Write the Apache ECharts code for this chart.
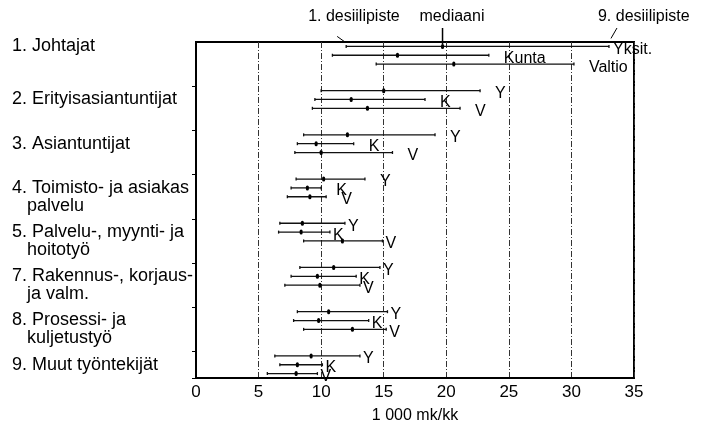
<!DOCTYPE html>
<html><head><meta charset="utf-8">
<script src="https://cdn.jsdelivr.net/npm/echarts@6/dist/echarts.min.js"></script>
<style>html,body{margin:0;padding:0;background:#fff}#c{width:701px;height:423px}</style>
</head><body><div id="c"></div>
<script>
// ---- data ----
const groups = [
  '1. Johtajat',
  '2. Erityisasiantuntijat',
  '3. Asiantuntijat',
  '4. Toimisto- ja asiakas\npalvelu',
  '5. Palvelu-, myynti- ja\nhoitotyö',
  '7. Rakennus-, korjaus-\nja valm.',
  '8. Prosessi- ja\nkuljetustyö',
  '9. Muut työntekijät'
];
const sectorLetters = ['Y', 'K', 'V'];
const sectorNames = ['Yksit.', 'Kunta', 'Valtio'];
// per group: [Yksit., Kunta, Valtio]  (1000 mk/kk)
const decile1 = [[12.0,10.9,14.4],[10.0,9.5,9.3],[8.6,8.1,7.9],[8.0,7.6,7.3],[6.7,6.6,8.6],[8.3,7.6,7.1],[8.1,7.8,8.6],[6.3,6.7,5.7]];
const median  = [[19.7,16.1,20.6],[15.0,12.4,13.7],[12.1,9.6,10.0],[10.2,8.9,9.1],[8.5,8.4,11.7],[11.0,9.7,9.9],[10.6,9.8,12.5],[9.2,8.1,8.0]];
const decile9 = [[33.0,23.4,30.2],[22.7,18.3,21.1],[19.1,12.6,15.7],[13.5,10.0,10.4],[11.9,10.7,14.9],[14.7,12.8,13.1],[15.3,13.8,15.2],[13.1,10.1,9.7]];
const xMin = 0, xMax = 35, xStep = 5;
const xAxisName = '1 000 mk/kk';
const noteD1 = '1. desiilipiste', noteMed = 'mediaani', noteD9 = '9. desiilipiste';

// ---- layout helpers ----
const FONT = 'Liberation Sans, Arial, sans-serif';
const PER = 5;
const nSlots = groups.length * PER - 2;
const slotLabels = new Array(nSlots).fill('');
groups.forEach((g, i) => {
  const off = i === 0 ? 0 : (g.indexOf('\n') >= 0 ? 2 : 1);
  slotLabels[i * PER + off] = g;
});
const rows = [];
groups.forEach((g, gi) => {
  for (let s = 0; s < 3; s++) {
    let gap = (gi >= 1 && gi <= 3) ? 15 : 3;
    if (gi === 0) gap = s === 0 ? 4 : 15;
    rows.push({
      value: [gi * PER + s, decile1[gi][s], median[gi][s], decile9[gi][s]],
      tag: gi === 0 ? sectorNames[s] : sectorLetters[s],
      gap: gap
    });
  }
});

function renderItem(params, api) {
  const r = rows[params.dataIndex];
  const yc = api.value(0);
  const a = api.coord([api.value(1), yc]);
  const m = api.coord([api.value(2), yc]);
  const b = api.coord([api.value(3), yc]);
  const st = { stroke: '#111', lineWidth: 1.3 };
  return {
    type: 'group',
    children: [
      { type: 'line', shape: { x1: a[0], y1: a[1], x2: b[0], y2: b[1] }, style: st },
      { type: 'line', shape: { x1: a[0], y1: a[1] - 1.5, x2: a[0], y2: a[1] + 1.5 }, style: st },
      { type: 'line', shape: { x1: b[0], y1: b[1] - 1.5, x2: b[0], y2: b[1] + 1.5 }, style: st },
      { type: 'rect', shape: { x: m[0] - 1.5, y: m[1] - 2.5, width: 3, height: 5, r: 1.5 }, style: { fill: '#000' } },
      { type: 'text', x: b[0] + r.gap, y: b[1] + 3,
        style: { text: r.tag, font: '16px ' + FONT, fill: '#000', verticalAlign: 'middle', align: 'left' } }
    ]
  };
}

const chart = echarts.init(document.getElementById('c'), null, { renderer: 'canvas' });
chart.setOption({
  animation: false,
  backgroundColor: '#fff',
  grid: { left: 196, right: 67, top: 42, bottom: 45, show: true, borderColor: '#000', borderWidth: 2,
          containLabel: false, outerBoundsMode: 'none' },
  xAxis: {
    type: 'value', min: xMin, max: xMax, interval: xStep,
    axisLine: { show: true, lineStyle: { color: '#000', width: 2 } },
    axisTick: { show: false },
    axisLabel: { color: '#000', fontSize: 17, fontFamily: FONT, margin: 6 },
    splitLine: { show: true, lineStyle: { color: '#333', width: 1, type: [6, 2, 1, 2] } },
    name: xAxisName, nameLocation: 'middle', nameGap: 30,
    nameTextStyle: { color: '#000', fontSize: 16, fontFamily: FONT }
  },
  yAxis: {
    type: 'category', inverse: true,
    data: slotLabels.map((_, i) => String(i)),
    axisLine: { show: true, lineStyle: { color: '#000', width: 2 } },
    axisTick: { show: true, length: 4, lineStyle: { color: '#000' }, interval: (i) => i > 0 && i % PER === 0 },
    splitLine: { show: false },
    axisLabel: {
      interval: 0, align: 'left', margin: 184, color: '#000',
      fontSize: 18, fontFamily: FONT, lineHeight: 18,
      formatter: (v, i) => {
        const t = slotLabels[i];
        if (!t) return '';
        const parts = t.split('\n');
        if (parts.length === 1) return '{a|' + parts[0] + '}';
        return '{a|' + parts[0] + '}\n{b|' + parts[1] + '}';
      },
      rich: {
        a: { fontSize: 18, fontFamily: FONT, color: '#000', lineHeight: 18 },
        b: { fontSize: 18, fontFamily: FONT, color: '#000', lineHeight: 18, padding: [0, 0, 0, 15] }
      }
    }
  },
  series: [{
    type: 'custom', renderItem: renderItem, clip: false,
    encode: { x: [1, 2, 3], y: 0 },
    data: rows.map(r => r.value)
  }]
});

// annotations anchored on the Johtajat / Yksit. row
const pLow = chart.convertToPixel({ gridIndex: 0 }, [decile1[0][0], 0]);
const pMed = chart.convertToPixel({ gridIndex: 0 }, [median[0][0], 0]);
const pHigh = chart.convertToPixel({ gridIndex: 0 }, [decile9[0][0], 0]);
const ty = 17;
const tStyle = (t, x) => ({ type: 'text', x: x, y: ty, style: { text: t, font: '16px ' + FONT, fill: '#000', verticalAlign: 'middle', align: 'left' } });
const lStyle = { stroke: '#000', lineWidth: 1 };
chart.setOption({
  graphic: [
    tStyle(noteD1, pLow[0] - 38),
    tStyle(noteMed, pMed[0] - 23),
    tStyle(noteD9, pHigh[0] - 11),
    { type: 'line', shape: { x1: pLow[0] - 9, y1: pLow[1] - 10, x2: pLow[0] - 2, y2: pLow[1] - 5 }, style: lStyle },
    { type: 'line', shape: { x1: pMed[0], y1: 28, x2: pMed[0], y2: pMed[1] - 2 }, style: { stroke: '#000', lineWidth: 1.5 } },
    { type: 'line', shape: { x1: pHigh[0] + 8, y1: 28, x2: pHigh[0] + 2, y2: pHigh[1] - 8 }, style: lStyle }
  ]
});
</script>
</body></html>
